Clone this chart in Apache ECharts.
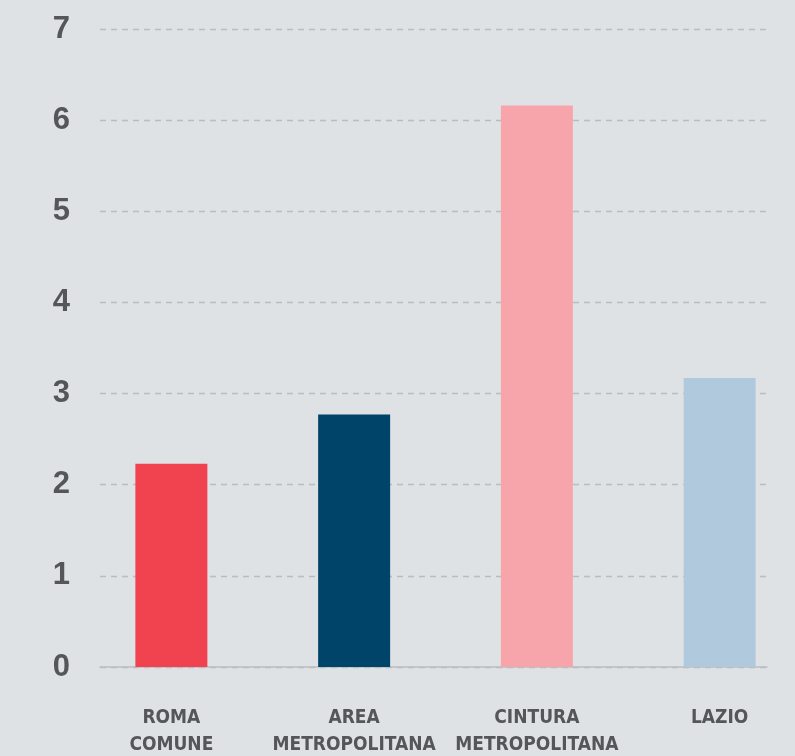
<!DOCTYPE html>
<html>
<head>
<meta charset="utf-8">
<script src="https://cdn.jsdelivr.net/npm/echarts@6/dist/echarts.min.js"></script>
<style>
html,body{margin:0;padding:0;background:#dfe2e5;}
#c{width:795px;height:756px;}
</style>
</head>
<body>
<div id="c"></div>
<script>
const categories = ['ROMA\nCOMUNE', 'AREA\nMETROPOLITANA', 'CINTURA\nMETROPOLITANA', 'LAZIO'];
const values = [2.23, 2.77, 6.16, 3.17];
const barColors = ['#f0434f', '#004569', '#f7a5aa', '#b1c9dc'];
const yTicks = { min: 0, max: 7, interval: 1 };

const chart = echarts.init(document.getElementById('c'), null, {renderer: 'canvas'});
chart.setOption({
  backgroundColor: '#dfe2e5',
  animation: false,
  grid: [
    {left: 80, width: 731, top: 29, bottom: 89, outerBoundsMode: 'none', containLabel: false},
    {left: 100, right: 28, top: 29, bottom: 89, outerBoundsMode: 'none', containLabel: false}
  ],
  xAxis: [
    {
      type: 'category', gridIndex: 0, data: categories,
      axisLine: {show: false}, axisTick: {show: false},
      axisLabel: {
        interval: 0, margin: 38, color: '#55565a', fontSize: 19, fontWeight: 'bold',
        fontFamily: '"DejaVu Sans Condensed", "DejaVu Sans", sans-serif', lineHeight: 27
      }
    },
    {
      type: 'value', gridIndex: 1, min: 0, max: 1,
      axisLine: {show: true, lineStyle: {color: '#bcbec1', width: 1.5}},
      axisTick: {show: false}, axisLabel: {show: false}, splitLine: {show: false}
    }
  ],
  yAxis: [
    {
      type: 'value', gridIndex: 0, min: yTicks.min, max: yTicks.max, interval: yTicks.interval,
      show: false, splitLine: {show: false}
    },
    {
      type: 'value', gridIndex: 1, min: yTicks.min, max: yTicks.max, interval: yTicks.interval,
      axisLine: {show: false}, axisTick: {show: false},
      axisLabel: {
        margin: 30, color: '#55565a', fontSize: 31, fontWeight: 'bold',
        fontFamily: '"Liberation Sans", Arial, sans-serif'
      },
      splitLine: {show: true, lineStyle: {color: '#b9bcc0', type: [6, 5], width: 1.3}}
    }
  ],
  series: [{
    type: 'bar', xAxisIndex: 0, yAxisIndex: 0,
    barWidth: 72,
    data: values.map((v, i) => ({value: v, itemStyle: {color: barColors[i]}})),
    z: 3
  }]
});
</script>
</body>
</html>
